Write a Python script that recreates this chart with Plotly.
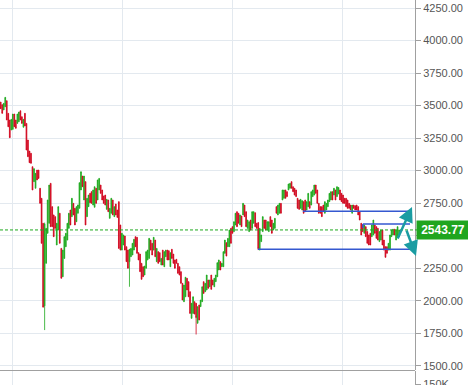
import plotly.graph_objects as go

# ---- data ----
open_ = [3527,3507,3466,3491,3537,3440,3389,3312,3317,3435,
3389,3363,3376,3460,3414,3333,3440,3363,3235,3150,
3133,3030,2915,2864,3004,3004,2864,2787,2595,1960,
2287,2518,2595,2902,2723,2659,2646,2428,2543,2672,
2402,2184,2325,2415,2466,2556,2697,2646,2748,2710,
2607,2672,2710,2851,2958,2774,2915,2646,2723,2825,
2838,2735,2718,2864,2774,2851,2889,2851,2805,2812,
2702,2774,2633,2672,2774,2646,2743,2697,2761,2582,
2389,2428,2497,2415,2389,2300,2338,2351,2389,2492,
2487,2369,2358,2287,2261,2197,2249,2313,2325,2466,
2441,2389,2466,2300,2377,2369,2274,2389,2261,2338,
2389,2384,2261,2395,2358,2313,2318,2287,2261,2223,
2133,1992,2030,2172,2146,2069,1864,1902,1992,1980,
1826,1967,1954,1992,2146,2069,2082,2159,2107,2197,
2159,2107,2146,2184,2236,2300,2261,2261,2364,2446,
2415,2415,2556,2569,2531,2582,2684,2672,2582,2651,
2659,2735,2684,2556,2531,2620,2556,2595,2676,2595,
2600,2389,2454,2531,2620,2620,2543,2531,2646,2620,
2543,2556,2723,2659,2672,2748,2774,2787,2851,2838,
2851,2864,2915,2876,2864,2851,2787,2774,2710,2697,
2761,2774,2697,2723,2761,2735,2800,2812,2889,2851,
2748,2723,2723,2735,2672,2697,2723,2761,2774,2838,
2812,2851,2800,2820,2851,2825,2812,2787,2787,2774,
2748,2735,2672,2735,2730,2735,2723,2684,2595,2582,
2518,2569,2531,2505,2518,2492,2505,2582,2569,2556,
2454,2466,2543,2466,2415,2415,2389,2389,2492,2505,
2549,2466,2492,2492]

high = [3527,3507,3517,3563,3537,3440,3389,3394,3435,3435,
3389,3435,3450,3460,3414,3394,3440,3363,3235,3150,
3133,3030,3015,2979,3004,3004,2864,2787,2595,2600,
2556,2774,2889,2902,2723,2659,2646,2595,2723,2672,
2402,2389,2492,2518,2595,2672,2697,2787,2748,2710,
2723,2736,2907,2991,2958,2958,2915,2787,2812,2825,
2838,2851,2876,2864,2928,2940,2889,2851,2805,2812,
2779,2774,2710,2787,2774,2723,2743,2697,2761,2582,
2518,2505,2497,2415,2389,2395,2402,2441,2472,2492,
2487,2369,2358,2287,2261,2266,2377,2389,2479,2466,
2441,2487,2466,2402,2377,2369,2325,2389,2377,2389,
2389,2384,2369,2395,2358,2313,2318,2287,2261,2223,
2133,2120,2180,2172,2146,2069,1980,2030,1992,1980,
1954,1967,2005,2107,2146,2133,2197,2159,2159,2197,
2159,2172,2197,2292,2313,2300,2287,2377,2466,2446,
2479,2543,2556,2569,2607,2672,2684,2672,2659,2651,
2748,2735,2684,2620,2607,2620,2684,2684,2676,2595,
2600,2556,2505,2646,2620,2620,2607,2607,2646,2620,
2595,2633,2723,2735,2748,2748,2851,2851,2851,2838,
2897,2902,2915,2876,2864,2851,2787,2774,2779,2769,
2761,2774,2761,2825,2761,2838,2851,2889,2889,2851,
2748,2723,2723,2735,2761,2748,2774,2825,2838,2838,
2864,2851,2876,2870,2851,2825,2812,2787,2787,2774,
2748,2735,2735,2735,2730,2735,2723,2684,2595,2582,
2582,2569,2531,2505,2518,2582,2620,2582,2569,2556,
2531,2543,2543,2466,2415,2415,2441,2505,2543,2549,
2549,2543,2569,2543.77]

low = [3476,3440,3466,3491,3389,3337,3253,3312,3317,3337,
3325,3363,3376,3389,3363,3333,3343,3158,3107,3061,
3056,2851,2915,2864,2928,2940,2748,2441,1950,1774,
2287,2518,2595,2569,2569,2492,2556,2428,2543,2441,
2172,2184,2325,2415,2466,2556,2582,2646,2659,2582,
2607,2672,2710,2851,2876,2774,2582,2646,2723,2753,
2748,2735,2718,2748,2774,2851,2825,2774,2748,2735,
2702,2684,2633,2672,2659,2646,2659,2640,2402,2389,
2389,2428,2389,2300,2249,2107,2338,2351,2389,2415,
2364,2313,2223,2164,2184,2197,2249,2313,2325,2389,
2351,2389,2338,2300,2287,2300,2274,2274,2261,2338,
2313,2313,2261,2325,2287,2249,2287,2210,2197,2133,
2005,1992,2030,2082,2030,1902,1864,1902,1897,1740,
1826,1851,1954,1992,2056,2069,2082,2095,2107,2087,
2120,2107,2146,2184,2236,2236,2261,2261,2364,2343,
2415,2415,2441,2518,2531,2582,2569,2595,2582,2569,
2659,2646,2569,2556,2531,2543,2556,2595,2569,2556,
2389,2389,2454,2531,2556,2543,2543,2531,2569,2518,
2543,2556,2672,2659,2672,2672,2774,2787,2787,2800,
2851,2864,2864,2838,2812,2800,2710,2702,2710,2697,
2672,2684,2697,2723,2710,2735,2800,2812,2825,2748,
2672,2672,2646,2684,2672,2697,2723,2761,2774,2774,
2812,2774,2800,2820,2774,2761,2748,2748,2723,2710,
2710,2697,2672,2710,2697,2697,2659,2620,2505,2531,
2518,2492,2441,2428,2428,2492,2505,2518,2479,2466,
2454,2466,2428,2389,2333,2364,2389,2389,2492,2505,
2505,2466,2492,2492]

close = [3476,3440,3517,3563,3389,3337,3253,3394,3435,3337,
3325,3435,3450,3389,3363,3394,3343,3158,3107,3061,
3056,2851,3015,2979,2928,2940,2748,2441,1950,2590,
2556,2774,2889,2569,2569,2492,2556,2595,2723,2441,
2172,2389,2492,2518,2595,2672,2582,2787,2659,2582,
2723,2736,2907,2991,2876,2958,2582,2787,2812,2753,
2748,2851,2876,2748,2928,2940,2825,2774,2748,2735,
2779,2684,2710,2787,2659,2723,2659,2640,2402,2389,
2518,2505,2389,2300,2249,2395,2402,2441,2472,2415,
2364,2313,2223,2164,2184,2266,2377,2389,2479,2389,
2351,2487,2338,2402,2287,2300,2325,2274,2377,2389,
2313,2313,2369,2325,2287,2249,2287,2210,2197,2133,
2005,2120,2180,2082,2030,1902,1980,2030,1897,1870,
1954,1851,2005,2107,2056,2133,2197,2095,2159,2087,
2120,2172,2197,2292,2313,2236,2287,2377,2466,2343,
2479,2543,2441,2518,2607,2672,2569,2595,2659,2569,
2748,2646,2569,2620,2607,2543,2684,2684,2569,2556,
2400,2556,2505,2646,2556,2543,2607,2607,2569,2518,
2595,2633,2672,2735,2748,2672,2851,2851,2787,2800,
2897,2902,2864,2838,2812,2800,2710,2702,2779,2769,
2672,2684,2761,2825,2710,2838,2851,2889,2825,2748,
2672,2672,2646,2684,2761,2748,2774,2825,2838,2774,
2864,2774,2876,2870,2774,2761,2748,2748,2723,2710,
2710,2697,2735,2710,2697,2697,2659,2620,2505,2531,
2582,2492,2441,2428,2428,2582,2620,2518,2479,2466,
2531,2543,2428,2389,2333,2364,2441,2505,2543,2549,
2505,2543,2569,2543.77]

bar_index = list(range(len(close)))
last_price = 2543.77
price_ticks = [1500, 1750, 2000, 2250, 2500, 2750, 3000, 3250, 3500, 3750, 4000, 4250]
volume_tick = [150000]
volume_tick_text = ["150K"]
# user-drawn support/resistance levels
level_prices = [2395, 2687, 2589]
level_starts = [169.8, 199.5, 239.1]
level_end = 270.2

GREEN = "#1ca81c"
RED = "#d0021b"
GRID = "#e3e9ef"
AXIS = "#a0a0a0"
TEAL = "#1a9ca2"
BLUE = "#3558d0"
FONT = "Liberation Sans, Arial, sans-serif"

H = 385
main_bottom = 15 / H

fig = go.Figure()
fig.add_trace(go.Candlestick(
    x=bar_index, open=open_, high=high, low=low, close=close,
    increasing=dict(line=dict(color=GREEN, width=0.8), fillcolor=GREEN),
    decreasing=dict(line=dict(color=RED, width=0.8), fillcolor=RED),
    whiskerwidth=0, showlegend=False, hoverinfo="skip",
    xaxis="x", yaxis="y",
))
fig.add_trace(go.Scatter(x=[None], y=[None], xaxis="x2", yaxis="y2",
                         showlegend=False, hoverinfo="skip"))

xr = [-0.46, 273.5]
fig.update_layout(
    width=468, height=385,
    margin=dict(l=0, r=53, t=0, b=0, autoexpand=False),
    paper_bgcolor="white", plot_bgcolor="white",
    font=dict(family=FONT, size=11, color="#555555"),
    showlegend=False,
    xaxis=dict(domain=[0, 1], anchor="y", range=xr, rangeslider=dict(visible=False),
               showticklabels=False, ticks="", tick0=8.1, dtick=72.6, automargin=False,
               showgrid=True, gridcolor=GRID, gridwidth=1, zeroline=False, showline=False),
    yaxis=dict(domain=[main_bottom, 1], anchor="x", side="right", range=[1467, 4311.5],
               tickvals=price_ticks, tickformat=".2f", automargin=False,
               showgrid=True, gridcolor=GRID, gridwidth=1, zeroline=False,
               showline=True, linecolor=AXIS, linewidth=1,
               ticks="outside", ticklen=5, tickcolor=AXIS, tickwidth=1,
               ticklabelstandoff=0, ticklabeloverflow="allow",
               tickfont=dict(family=FONT, size=11, color="#555555")),
    xaxis2=dict(domain=[0, 1], anchor="y2", range=xr, matches="x", automargin=False,
                showticklabels=False, ticks="", tick0=8.1, dtick=72.6,
                showgrid=True, gridcolor=GRID, zeroline=False, showline=False),
    yaxis2=dict(domain=[0, 14 / H], anchor="x2", side="right", range=[145000, 215000],
                tickvals=volume_tick, ticktext=volume_tick_text, automargin=False,
                showgrid=False, zeroline=False,
                showline=True, linecolor=AXIS, linewidth=1,
                ticks="outside", ticklen=5, tickcolor=AXIS,
                ticklabelstandoff=0, ticklabeloverflow="allow",
                tickfont=dict(family=FONT, size=11, color="#555555")),
)

shapes = []
shapes.append(dict(type="line", xref="paper", yref="paper", x0=0, x1=1,
                   y0=main_bottom - 0.5 / H, y1=main_bottom - 0.5 / H,
                   line=dict(color=AXIS, width=1)))
shapes.append(dict(type="line", xref="paper", yref="y", x0=0, x1=1.01,
                   y0=last_price, y1=last_price,
                   line=dict(color=GREEN, width=1, dash="3px,2px")))
for p, s in zip(level_prices, level_starts):
    shapes.append(dict(type="line", xref="x", yref="y", x0=s, x1=level_end, y0=p, y1=p,
                       line=dict(color=BLUE, width=1.5)))
shapes.append(dict(type="line", xref="x", yref="y", x0=level_starts[2], x1=level_starts[2],
                   y0=level_prices[2], y1=level_prices[2] - 30,
                   line=dict(color=BLUE, width=1.5)))
fig.update_layout(shapes=shapes)

W_plot = 415
annotations = [
    dict(xref="paper", yref="y", x=1, y=last_price, xanchor="left", yanchor="middle",
         xshift=1, text="<b>2543.77</b>", showarrow=False,
         font=dict(family=FONT, size=12, color="white"),
         bgcolor="#1fa51f", borderpad=3, width=46, height=12),
    dict(xref="paper", yref="paper", x=412 / W_plot, y=1 - 207 / H, text="",
         showarrow=True, ax=-15, ay=33, arrowcolor=TEAL, arrowwidth=2.5,
         arrowhead=2, arrowsize=1.2),
    dict(xref="paper", yref="paper", x=416 / W_plot, y=1 - 256 / H, text="",
         showarrow=True, ax=-10, ay=-27, arrowcolor=TEAL, arrowwidth=2.5,
         arrowhead=2, arrowsize=1.2),
]
fig.update_layout(annotations=annotations)

page_css = ("document.documentElement.style.margin='0';"
            "document.documentElement.style.overflow='hidden';"
            "document.body.style.margin='0';"
            "document.body.style.overflow='hidden';"
            "document.body.style.height='385px';")
fig.write_html("out.html", config={"displayModeBar": False}, post_script=page_css)
